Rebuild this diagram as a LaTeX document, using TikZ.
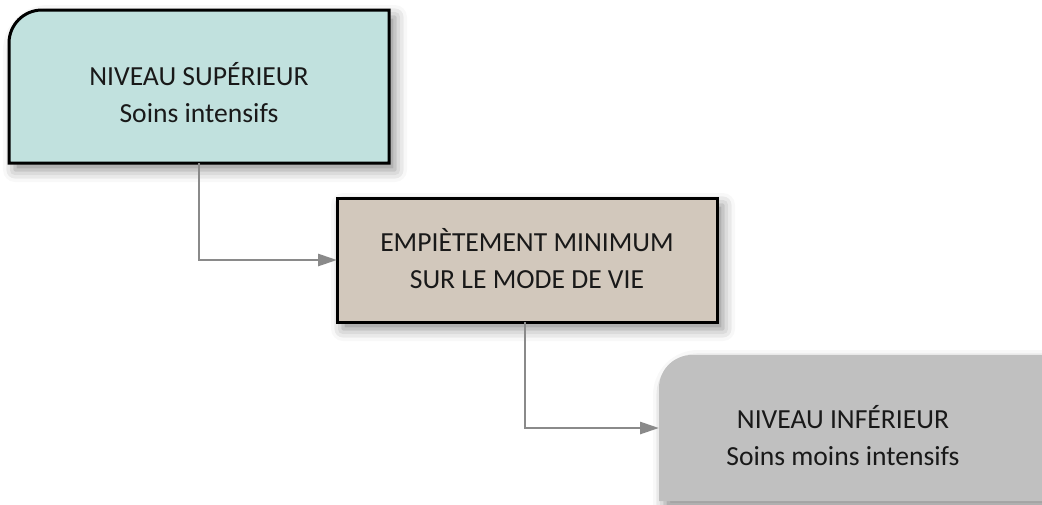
\documentclass[tikz,border=0pt]{standalone}
\usepackage{fontspec}
\setmainfont{Carlito}
\usetikzlibrary{arrows.meta,shadows.blur}
\definecolor{upperfill}{HTML}{C1E1DE}
\definecolor{midfill}{HTML}{D2C8BC}
\definecolor{lowerfill}{HTML}{C0C0C0}
\definecolor{linkgray}{HTML}{8A8A8A}
\tikzset{
  frame/.style={inner sep=0pt, outer sep=0pt},
  boxshadow/.style={blur shadow={shadow xshift=6pt, shadow yshift=-7pt,
      shadow blur radius=12pt, shadow opacity=45}},
  label/.style={align=center, font=\fontsize{27.6}{37}\selectfont, text=black!90},
  link/.style={draw=linkgray, line width=2.8pt,
      -{Triangle[length=19pt,width=12pt]}},
}
\begin{document}
\begin{tikzpicture}[x=1pt,y=-1pt]
\useasboundingbox (0,0) rectangle (1042,504);

% box geometry
\node[frame, minimum width=380pt, minimum height=153pt] (upper) at (199,86.5) {};
\node[frame, minimum width=380pt, minimum height=124pt] (mid) at (527,260) {};
\node[frame, minimum width=400pt, minimum height=146pt] (lower) at (859,428) {};

% upper box: rounded top-left corner, black frame
\path[boxshadow, fill=upperfill, draw=black, line width=3pt]
  (upper.south west) -- ([yshift=-33pt]upper.north west)
  arc[start angle=180, end angle=90, radius=33pt]
  -- (upper.north east) -- (upper.south east) -- cycle;

% middle box: plain rectangle, black frame
\path[boxshadow, fill=midfill, draw=black, line width=3pt]
  (mid.south west) rectangle (mid.north east);

% lower box: rounded top-left corner, no frame
\path[boxshadow, fill=lowerfill]
  (lower.south west) -- ([yshift=-33pt]lower.north west)
  arc[start angle=180, end angle=90, radius=33pt]
  -- (lower.north east) -- (lower.south east) -- cycle;

% texts
\node[label] (uppertext) at (199,93) {NIVEAU SUPÉRIEUR\\Soins intensifs};
\node[label] (midtext) at (527,259) {EMPIÈTEMENT MINIMUM\\SUR LE MODE DE VIE};
\node[label] (lowertext) at (843,436) {NIVEAU INFÉRIEUR\\Soins moins intensifs};

% connectors
\draw[link] (upper.south) |- (mid.west);
\draw[link] ([xshift=-2pt]mid.south) |- (lower.west);
\end{tikzpicture}
\end{document}
